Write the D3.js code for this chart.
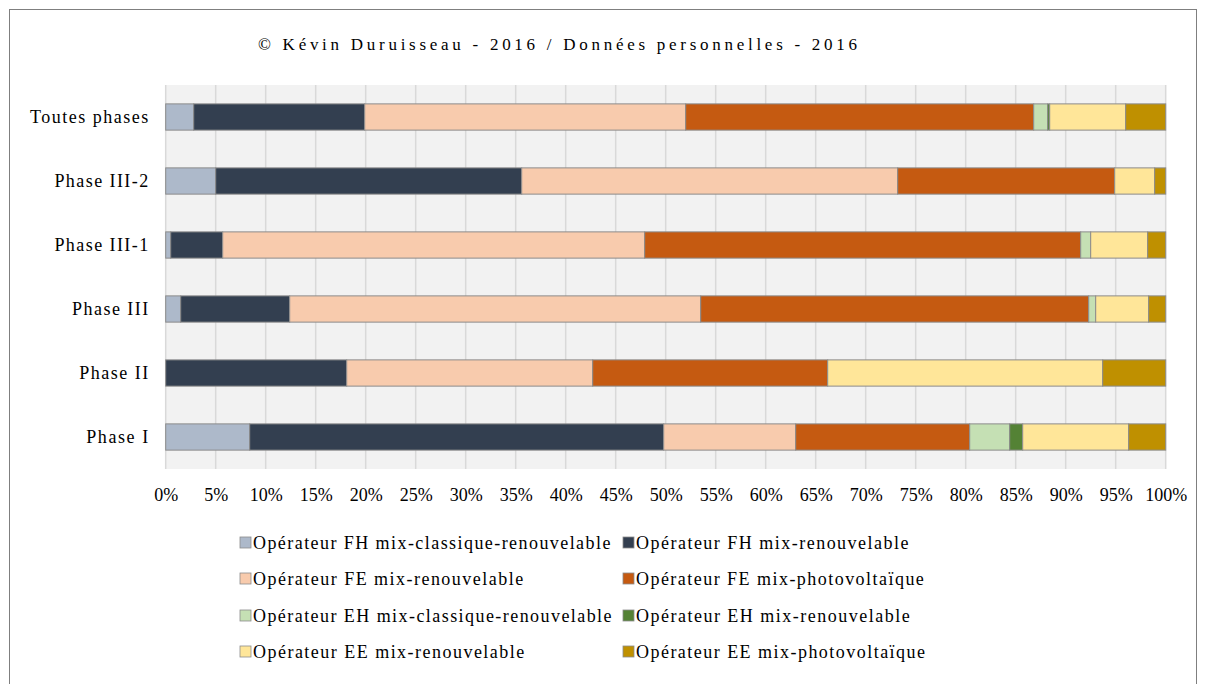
<!DOCTYPE html>
<html><head><meta charset="utf-8">
<script src="https://cdn.jsdelivr.net/npm/d3@7"></script>
<style>body{margin:0;background:#fff;}svg{display:block;}</style>
</head><body>
<svg id="chart" width="1206" height="684"></svg>
<script>
const categories = ["Toutes phases","Phase III-2","Phase III-1","Phase III","Phase II","Phase I"];
const seriesNames = [
  "Opérateur FH mix-classique-renouvelable",
  "Opérateur FH mix-renouvelable",
  "Opérateur FE mix-renouvelable",
  "Opérateur FE mix-photovoltaïque",
  "Opérateur EH mix-classique-renouvelable",
  "Opérateur EH mix-renouvelable",
  "Opérateur EE mix-renouvelable",
  "Opérateur EE mix-photovoltaïque"
];
const colors = ["#adb9ca","#333f50","#f8cbad","#c55a11","#c5e0b4","#548235","#ffe699","#bf9000"];
// values in % per category (same order as categories)
const fhClassique = [2.8, 5.0, 0.5, 1.5, 0.0, 8.4];
const fhRenouv    = [17.1, 30.6, 5.2, 10.9, 18.1, 41.4];
const feRenouv    = [32.1, 37.6, 42.2, 41.1, 24.6, 13.2];
const fePhoto     = [34.8, 21.7, 43.6, 38.8, 23.5, 17.4];
const ehClassique = [1.4, 0.0, 1.0, 0.7, 0.0, 4.0];
const ehRenouv    = [0.2, 0.0, 0.0, 0.0, 0.0, 1.3];
const eeRenouv    = [7.6, 4.0, 5.7, 5.3, 27.5, 10.6];
const eePhoto     = [4.0, 1.1, 1.8, 1.7, 6.3, 3.7];
const tickValues = [0,5,10,15,20,25,30,35,40,45,50,55,60,65,70,75,80,85,90,95,100];
const title = "© Kévin Duruisseau - 2016 / Données personnelles - 2016";

const seriesValues = [fhClassique, fhRenouv, feRenouv, fePhoto, ehClassique, ehRenouv, eeRenouv, eePhoto];
const rows = categories.map((c,i)=>{
  const o = {cat:c};
  seriesNames.forEach((s,j)=>o[s]=seriesValues[j][i]);
  return o;
});

const svg = d3.select("#chart");
const font = "'Liberation Serif','Times New Roman',serif";

function widen(sel, factor){
  sel.each(function(){
    const w = this.getComputedTextLength();
    d3.select(this).attr("textLength", w*factor).attr("lengthAdjust","spacing");
  });
}

// outer border
svg.append("rect").attr("x",9.5).attr("y",9.5).attr("width",1187).attr("height",690)
  .attr("fill","#fff").attr("stroke","#7f7f7f").attr("stroke-width",1);

svg.append("text").attr("x",557.5).attr("y",50).attr("text-anchor","middle")
  .attr("font-family",font).attr("font-size",17).attr("fill","#000")
  .attr("textLength",599).attr("lengthAdjust","spacing").text(title);

const x = d3.scaleLinear().domain([0,100]).range([165.7,1165.7]);
const y = d3.scaleBand().domain(categories).range([85,469]).paddingInner(0.59).paddingOuter(0.295);

// plot background
svg.append("rect").attr("x",x(0)).attr("y",85).attr("width",x(100)-x(0)).attr("height",384).attr("fill","#f2f2f2");

// gridlines
svg.append("g").selectAll("line").data(tickValues).join("line")
  .attr("x1",d=>x(d)).attr("x2",d=>x(d)).attr("y1",85).attr("y2",469)
  .attr("stroke","#d9d9d9").attr("stroke-width",1.5);

const stack = d3.stack().keys(seriesNames)(rows);
svg.append("g").selectAll("g").data(stack).join("g")
  .attr("fill",(d,i)=>colors[i])
  .selectAll("rect").data(d=>d.filter(p=>p[1]-p[0]>0)).join("rect")
  .attr("x",d=>x(d[0])).attr("width",d=>x(d[1])-x(d[0]))
  .attr("y",d=>y(d.data.cat)).attr("height",y.bandwidth())
  .attr("stroke","#8c8c8c").attr("stroke-width",1);

// axes
const xAxis = svg.append("g").attr("transform","translate(0,469)")
  .call(d3.axisBottom(x).tickValues(tickValues).tickFormat(d=>d+"%").tickSize(0).tickPadding(19));
xAxis.select(".domain").remove();
xAxis.selectAll("text").attr("font-family",font).attr("font-size",18).attr("fill","#000");

const yAxis = svg.append("g").attr("transform","translate(165.7,0)")
  .call(d3.axisLeft(y).tickSize(0).tickPadding(17.5));
yAxis.select(".domain").remove();
yAxis.selectAll("text").attr("font-family",font).attr("font-size",18).attr("fill","#000");
widen(yAxis.selectAll("text"), 1.18);

// legend
const legendCols = [240, 623];
const legendRows = [543, 579, 616, 652];
const lg = svg.append("g").selectAll("g").data(seriesNames).join("g")
  .attr("transform",(d,i)=>`translate(${legendCols[i%2]},${legendRows[Math.floor(i/2)]})`);
lg.append("rect").attr("x",0).attr("y",-6).attr("width",11).attr("height",11)
  .attr("fill",(d,i)=>colors[i]).attr("stroke","#8c8c8c").attr("stroke-width",0.8);
const lt = lg.append("text").attr("x",13).attr("y",0).attr("dy","0.35em")
  .attr("font-family",font).attr("font-size",18).attr("fill","#000").text(d=>d);
widen(lt, 1.18);
</script>
</body></html>
